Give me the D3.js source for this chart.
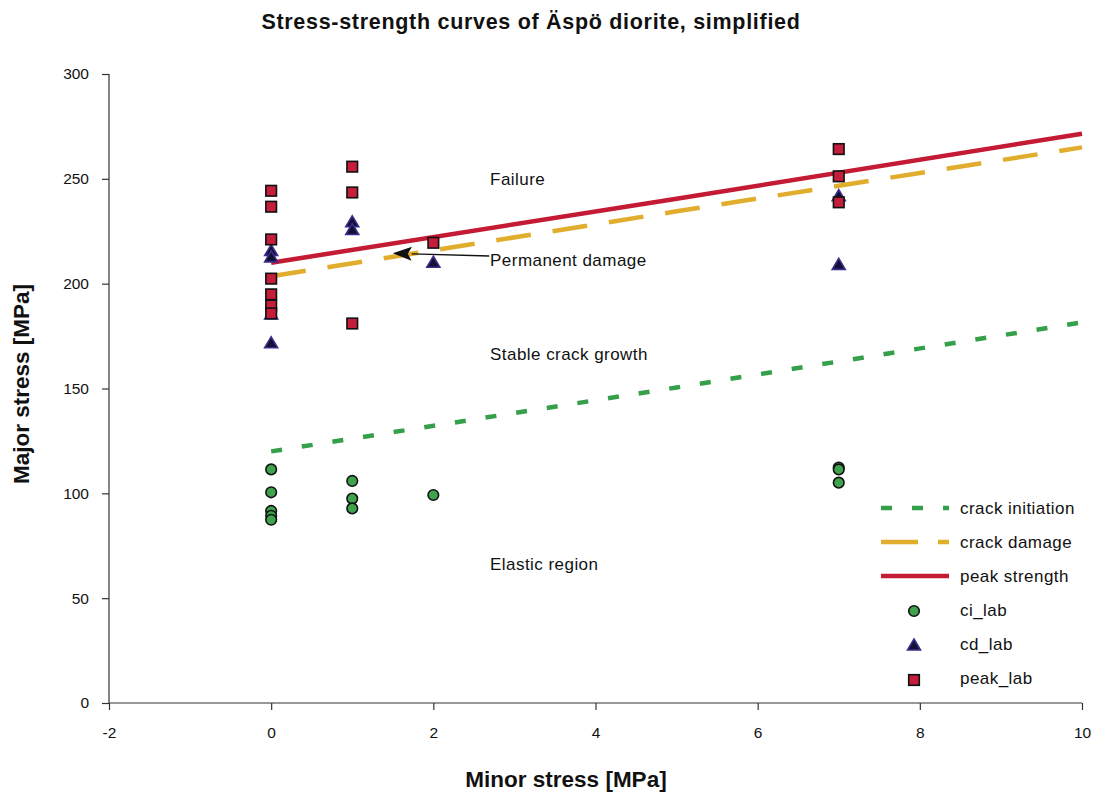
<!DOCTYPE html>
<html>
<head>
<meta charset="utf-8">
<script src="https://cdn.jsdelivr.net/npm/d3@7"></script>
<style>
  body { margin: 0; background: #fff; }
  svg text { font-family: "Liberation Sans", Arial, Helvetica, sans-serif; fill: #111; }
</style>
</head>
<body>
<svg id="chart" width="1099" height="792"></svg>
<script>
// Strength envelopes (minor stress [MPa], major stress [MPa])
const crackInitiation = [[0, 120], [5, 150.5], [10, 181.5]];
const crackDamage     = [[0, 203.5], [5, 234.5], [10, 265]];
const peakStrength    = [[0, 210], [5, 240.5], [10, 271.5]];

// Laboratory results
const ciLabX   = [0, 0, 0, 0, 0, 1, 1, 1, 2, 7, 7, 7];
const ciLabY   = [111.4, 100.5, 91.6, 89.3, 87.4, 105.9, 97.5, 92.8, 99.2, 112.3, 111.4, 105.1];
const cdLabX   = [0, 0, 0, 0, 1, 1, 2, 7, 7];
const cdLabY   = [215.8, 212.8, 185.5, 171.8, 229.5, 225.8, 210.2, 242.0, 209.2];
const peakLabX = [0, 0, 0, 0, 0, 0, 0, 1, 1, 1, 2, 7, 7, 7];
const peakLabY = [244.3, 236.7, 221.1, 202.4, 194.9, 189.6, 185.8, 255.8, 243.5, 181.0, 219.5, 264.2, 251.2, 238.8];

// Axis ticks
const xTicks = [-2, 0, 2, 4, 6, 8, 10];
const yTicks = [0, 50, 100, 150, 200, 250, 300];

// Region labels
const regionLabels = [
  { text: "Failure", x: 2.7, y: 250 },
  { text: "Permanent damage", x: 2.7, y: 211.5 },
  { text: "Stable crack growth", x: 2.7, y: 166.5 },
  { text: "Elastic region", x: 2.7, y: 66.5 }
];
const arrowFrom = [2.69, 213.2];
const arrowTo   = [1.5, 214.5];

const colors = {
  ci: "#35a04a", cd: "#e0ad2c", peak: "#c41a34",
  ciFill: "#3ea34c", cdFill: "#111133", cdStroke: "#3a2d8a", peakFill: "#c41e3a"
};

const svg = d3.select("#chart");
const plotLeft = 109, plotRight = 1082, plotTop = 74, plotBottom = 703;

const x = d3.scaleLinear().domain([-2, 10]).range([plotLeft, plotRight]);
const y = d3.scaleLinear().domain([0, 300]).range([plotBottom, plotTop]);

// Title
svg.append("text")
  .attr("x", 531).attr("y", 29)
  .attr("text-anchor", "middle")
  .style("font-size", "21.5px").style("font-weight", "bold")
  .style("letter-spacing", "0.7px")
  .text("Stress-strength curves of Äspö diorite, simplified");

// Axes
const yAxis = svg.append("g")
  .attr("transform", `translate(${plotLeft},0)`)
  .call(d3.axisLeft(y).tickValues(yTicks).tickSize(7).tickPadding(13).tickFormat(d => String(d)));
const xAxis = svg.append("g")
  .attr("transform", `translate(0,${plotBottom})`)
  .call(d3.axisBottom(x).tickValues(xTicks).tickSize(7).tickPadding(17).tickFormat(d => String(d)));
[xAxis, yAxis].forEach(g => {
  g.select(".domain").attr("stroke", "#333").attr("stroke-width", 1.2);
  g.selectAll(".tick line").attr("stroke", "#333").attr("stroke-width", 1.2);
  g.selectAll(".tick text").style("font-size", "15.5px").style("font-family", "Liberation Sans, Arial, sans-serif").attr("fill", "#111");
});
xAxis.select(".domain").attr("d", `M${plotLeft},0H${plotRight}`);
yAxis.select(".domain").attr("d", `M0,${plotTop}V${plotBottom}`);

// Axis titles
svg.append("text")
  .attr("x", 566).attr("y", 787)
  .attr("text-anchor", "middle")
  .style("font-size", "22.5px").style("font-weight", "bold")
  .text("Minor stress [MPa]");
svg.append("text")
  .attr("transform", `translate(29,384) rotate(-90)`)
  .attr("text-anchor", "middle")
  .style("font-size", "22.5px").style("font-weight", "bold")
  .text("Major stress [MPa]");

// Envelope lines
const line = d3.line().x(d => x(d[0])).y(d => y(d[1]));
const lineSeries = [
  { name: "crack initiation", data: crackInitiation, color: colors.ci, dash: "11,20" },
  { name: "crack damage", data: crackDamage, color: colors.cd, dash: "35,22" },
  { name: "peak strength", data: peakStrength, color: colors.peak, dash: null }
];
lineSeries.forEach(s => {
  svg.append("path")
    .datum(s.data)
    .attr("d", line)
    .attr("fill", "none")
    .attr("stroke", s.color)
    .attr("stroke-width", 4.5)
    .attr("stroke-dasharray", s.dash);
});

// Marker shapes
const triPath = "M0,-6L6.5,5L-6.5,5Z";
function drawCircle(g, cx, cy) {
  g.append("circle").attr("cx", cx).attr("cy", cy).attr("r", 5.3)
    .attr("fill", colors.ciFill).attr("stroke", "#111").attr("stroke-width", 1.6);
}
function drawTri(g, cx, cy) {
  g.append("path").attr("d", triPath).attr("transform", `translate(${cx},${cy})`)
    .attr("fill", colors.cdFill).attr("stroke", colors.cdStroke).attr("stroke-width", 1.6);
}
function drawSquare(g, cx, cy) {
  g.append("rect").attr("x", cx - 5.3).attr("y", cy - 5.3).attr("width", 10.6).attr("height", 10.6)
    .attr("fill", colors.peakFill).attr("stroke", "#111").attr("stroke-width", 1.6);
}

const marks = svg.append("g");
ciLabX.forEach((v, i) => drawCircle(marks, x(v), y(ciLabY[i])));
cdLabX.forEach((v, i) => drawTri(marks, x(v), y(cdLabY[i])));
peakLabX.forEach((v, i) => drawSquare(marks, x(v), y(peakLabY[i])));

// Region labels
regionLabels.forEach(r => {
  svg.append("text")
    .attr("x", x(r.x)).attr("y", y(r.y))
    .attr("dy", "0.35em")
    .style("font-size", "17px")
    .style("letter-spacing", "0.45px")
    .text(r.text);
});

// Arrow to the crack damage envelope
const ax0 = x(arrowFrom[0]), ay0 = y(arrowFrom[1]);
const ax1 = x(arrowTo[0]), ay1 = y(arrowTo[1]);
const ang = Math.atan2(ay1 - ay0, ax1 - ax0);
const headLen = 19, headHalf = 7;
const bx = ax1 - headLen * Math.cos(ang), by = ay1 - headLen * Math.sin(ang);
svg.append("line")
  .attr("x1", ax0).attr("y1", ay0).attr("x2", bx).attr("y2", by)
  .attr("stroke", "#111").attr("stroke-width", 1.3);
svg.append("path")
  .attr("d", `M${ax1},${ay1}L${bx - headHalf * Math.sin(ang)},${by + headHalf * Math.cos(ang)}L${bx + 4 * Math.cos(ang)},${by + 4 * Math.sin(ang)}L${bx + headHalf * Math.sin(ang)},${by - headHalf * Math.cos(ang)}Z`)
  .attr("fill", "#111");

// Legend
const legendItems = [
  { name: "crack initiation", type: "line", color: colors.ci, dash: "11,20" },
  { name: "crack damage", type: "line", color: colors.cd, dash: "37,20" },
  { name: "peak strength", type: "line", color: colors.peak, dash: null },
  { name: "ci_lab", type: "circle" },
  { name: "cd_lab", type: "tri" },
  { name: "peak_lab", type: "square" }
];
const legend = svg.append("g");
legendItems.forEach((d, i) => {
  const ly = 508 + i * 34;
  if (d.type === "line") {
    legend.append("line")
      .attr("x1", 881).attr("x2", 949).attr("y1", ly).attr("y2", ly)
      .attr("stroke", d.color).attr("stroke-width", 4.5)
      .attr("stroke-dasharray", d.dash);
  } else if (d.type === "circle") {
    drawCircle(legend, 914, ly + 1);
  } else if (d.type === "tri") {
    drawTri(legend, 914, ly + 1);
  } else {
    drawSquare(legend, 914, ly + 2);
  }
  legend.append("text")
    .attr("x", 960).attr("y", ly).attr("dy", "0.35em")
    .style("font-size", "17px")
    .style("letter-spacing", "0.45px")
    .text(d.name);
});
</script>
</body>
</html>
